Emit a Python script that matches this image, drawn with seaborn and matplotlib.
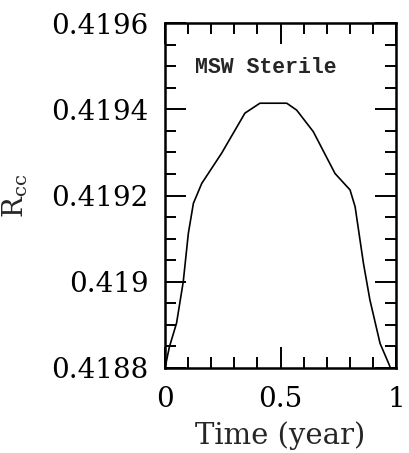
import matplotlib
matplotlib.use("Agg")
import matplotlib.pyplot as plt
import seaborn as sns
import pandas as pd
from matplotlib.ticker import MultipleLocator

time_year = [0.0, 0.019, 0.05, 0.079, 0.101, 0.123, 0.159, 0.245, 0.346, 0.411, 0.527,
             0.570, 0.642, 0.736, 0.801, 0.823, 0.859, 0.887, 0.931, 0.971, 1.0]
r_cc = [0.41880, 0.418849, 0.418904, 0.41900, 0.419112, 0.419182, 0.419228, 0.419298,
        0.419391, 0.419414, 0.419414, 0.419398, 0.419348, 0.419251, 0.419213, 0.419174,
        0.419043, 0.418958, 0.418857, 0.418807, 0.41876]
y_ticks = [0.4188, 0.419, 0.4192, 0.4194, 0.4196]
y_tick_labels = ["0.4188", "0.419", "0.4192", "0.4194", "0.4196"]
x_ticks = [0, 0.5, 1]
x_tick_labels = ["0", "0.5", "1"]

df = pd.DataFrame({"Time": time_year, "Rcc": r_cc})

sns.set_style("ticks")
plt.rcParams["font.family"] = ["DejaVu Serif"]
plt.rcParams["mathtext.fontset"] = "dejavuserif"

fig = plt.figure(figsize=(4.10, 4.53), dpi=100)
ax = fig.add_axes([165/410, 1 - 368/453, 231/410, 345/453])

sns.lineplot(data=df, x="Time", y="Rcc", ax=ax, color="black", linewidth=1.2)

ax.set_xlim(0, 1)
ax.set_ylim(0.4188, 0.4196)
ax.set_xticks(x_ticks)
ax.set_xticklabels(x_tick_labels)
ax.set_yticks(y_ticks)
ax.set_yticklabels(y_tick_labels)
ax.xaxis.set_minor_locator(MultipleLocator(0.1))
ax.yaxis.set_minor_locator(MultipleLocator(0.00005))

ax.tick_params(which="both", direction="in", top=True, right=True, width=1.4,
               labelsize=20, colors="black")
ax.tick_params(which="major", length=15)
ax.tick_params(axis="y", which="major", pad=12)
ax.tick_params(axis="x", which="major", pad=13)
ax.tick_params(which="minor", length=8)
for s in ax.spines.values():
    s.set_linewidth(1.8)
    s.set_color("black")

ax.set_xlabel("Time (year)", fontsize=21)
ax.set_ylabel(r"R$_{\rm cc}$", fontsize=20)
ax.xaxis.set_label_coords(0.5, -0.155)
ax.yaxis.set_label_coords(-0.585, 0.5)

ax.text(0.13, 0.419496, "MSW Sterile", fontsize=15.5, fontweight="bold",
        family=["Liberation Mono", "DejaVu Sans Mono"], va="center", ha="left")

fig.savefig("out.png", dpi=100)
